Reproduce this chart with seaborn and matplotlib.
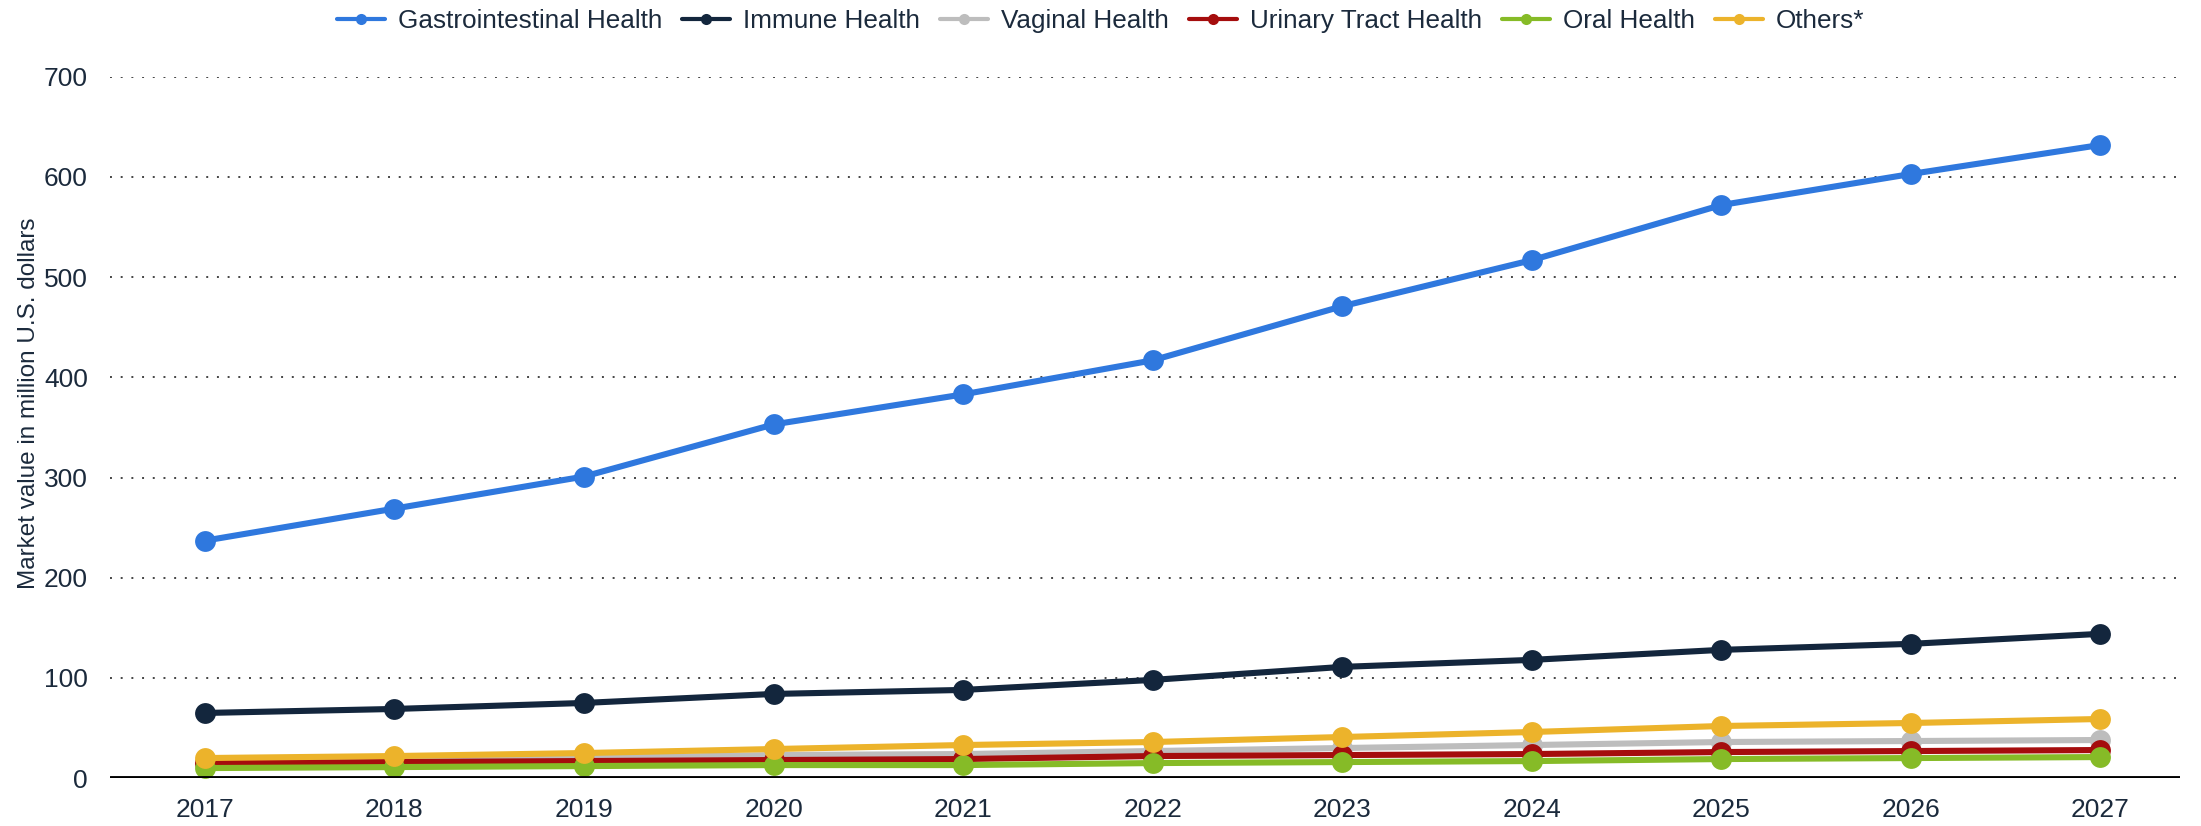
import matplotlib
matplotlib.use("Agg")
import matplotlib.pyplot as plt
from matplotlib.lines import Line2D
import seaborn as sns
import pandas as pd

years = [2017, 2018, 2019, 2020, 2021, 2022, 2023, 2024, 2025, 2026, 2027]
gastrointestinal = [237, 269, 301, 353, 383, 417, 471, 517, 572, 603, 632]
immune = [65, 69, 75, 84, 88, 98, 111, 118, 128, 134, 144]
vaginal = [16, 18, 20, 23, 24, 27, 30, 33, 36, 37, 38]
urinary = [15, 16, 17, 18, 19, 22, 23, 24, 26, 27, 28]
oral = [10, 11, 12, 13, 13, 15, 16, 17, 19, 20, 21]
others = [20, 22, 25, 29, 33, 36, 41, 46, 52, 55, 59]

series_names = ["Gastrointestinal Health", "Immune Health", "Vaginal Health",
                "Urinary Tract Health", "Oral Health", "Others*"]
series_values = [gastrointestinal, immune, vaginal, urinary, oral, others]
colors = ["#2f78de", "#13263d", "#bdbdbd", "#a50d0d", "#86bb27", "#ecb32b"]

df = pd.DataFrame({
    "year": years * len(series_names),
    "value": [v for vals in series_values for v in vals],
    "series": [n for n in series_names for _ in years],
})

sns.set_style("white")
plt.rcParams["font.family"] = ["Liberation Sans", "DejaVu Sans"]
text_color = "#1b2a3c"

fig = plt.figure(figsize=(22.01, 8.26), dpi=100)
ax = fig.add_axes([0.05, 0.058, 0.9405, 0.849])

for name, color in zip(series_names, colors):
    sub = df[df["series"] == name]
    sns.lineplot(data=sub, x="year", y="value", ax=ax, color=color,
                 linewidth=4.4, marker="o", markersize=15, markeredgewidth=0,
                 legend=False, clip_on=False, zorder=3)

ax.set_xlim(2016.5, 2027.42)
ax.set_ylim(0, 700)
ax.set_xticks(years)
ax.set_yticks(range(0, 701, 100))
ax.tick_params(axis="both", length=0, labelsize=19, labelcolor=text_color)
ax.tick_params(axis="x", pad=14)
ax.tick_params(axis="y", pad=16)

for y in range(100, 701, 100):
    ax.axhline(y, color="#444444", linewidth=1.4, linestyle=(0, (1, 4.5)), zorder=1)
ax.axhline(0, color="#000000", linewidth=3.5, zorder=4)

for side in ["left", "right", "top", "bottom"]:
    ax.spines[side].set_visible(False)

ax.set_xlabel("")
ax.set_ylabel("Market value in million U.S. dollars", fontsize=17.5, color=text_color)
ax.yaxis.set_label_coords(-0.034, 0.535)

handles = [Line2D([0], [0], color=c, linewidth=3, marker="o", markersize=8,
                  markeredgewidth=0) for c in colors]
fig.legend(handles, series_names, loc="center", bbox_to_anchor=(0.5, 0.975),
           ncol=6, frameon=False, fontsize=18.8, handlelength=1.85, handletextpad=0.5,
           columnspacing=0.75, labelcolor=text_color)

fig.savefig("out.png", dpi=100)
